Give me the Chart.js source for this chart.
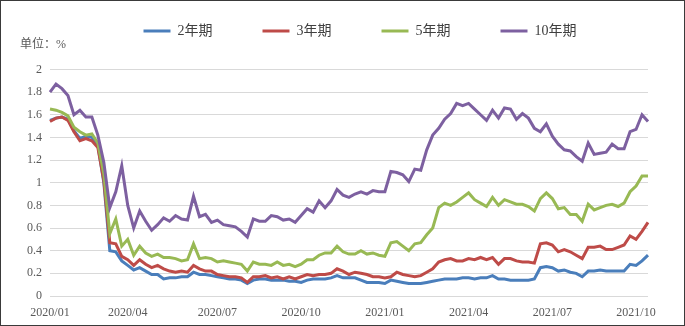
<!DOCTYPE html>
<html>
<head>
<meta charset="utf-8">
<script src="https://cdn.jsdelivr.net/npm/chart.js@4.4.0/dist/chart.umd.min.js"></script>
<style>
  html, body { margin: 0; padding: 0; background: #fff; }
  .frame { width: 685px; height: 326px; box-sizing: border-box; border: 1px solid #3a3a3a; }
</style>
</head>
<body>
<div class="frame">
  <canvas id="yieldChart" width="683" height="324"></canvas>
</div>
<script>
// yields, % (sampled at even steps from 2020/01 to mid 2021/10)
const y2 = [1.55, 1.57, 1.58, 1.56, 1.46, 1.39, 1.41, 1.40, 1.33, 1.00,
  0.40, 0.39, 0.31, 0.27, 0.23, 0.25, 0.22, 0.19, 0.19, 0.15,
  0.16, 0.16, 0.17, 0.17, 0.21, 0.19, 0.19, 0.18, 0.17, 0.16,
  0.15, 0.15, 0.14, 0.11, 0.14, 0.15, 0.15, 0.14, 0.14, 0.14,
  0.13, 0.13, 0.12, 0.14, 0.15, 0.15, 0.15, 0.16, 0.18, 0.16,
  0.16, 0.16, 0.14, 0.12, 0.12, 0.12, 0.11, 0.14, 0.13, 0.12,
  0.11, 0.11, 0.11, 0.12, 0.13, 0.14, 0.15, 0.15, 0.15, 0.16,
  0.16, 0.15, 0.16, 0.16, 0.18, 0.15, 0.15, 0.14, 0.14, 0.14,
  0.14, 0.15, 0.25, 0.26, 0.25, 0.22, 0.23, 0.21, 0.20, 0.17,
  0.22, 0.22, 0.23, 0.22, 0.22, 0.22, 0.22, 0.28, 0.27, 0.31, 0.36];
const y3 = [1.54, 1.57, 1.58, 1.55, 1.45, 1.37, 1.39, 1.37, 1.31, 1.02,
  0.47, 0.46, 0.35, 0.32, 0.27, 0.32, 0.28, 0.25, 0.27, 0.24,
  0.22, 0.21, 0.22, 0.21, 0.27, 0.24, 0.22, 0.22, 0.19, 0.18,
  0.17, 0.17, 0.16, 0.12, 0.17, 0.17, 0.18, 0.16, 0.17, 0.15,
  0.17, 0.15, 0.17, 0.19, 0.18, 0.19, 0.19, 0.20, 0.24, 0.22,
  0.19, 0.21, 0.20, 0.19, 0.17, 0.17, 0.16, 0.17, 0.21, 0.19,
  0.18, 0.17, 0.18, 0.21, 0.24, 0.30, 0.32, 0.33, 0.31, 0.31,
  0.33, 0.32, 0.34, 0.32, 0.34, 0.28, 0.33, 0.33, 0.31, 0.30,
  0.30, 0.29, 0.46, 0.47, 0.45, 0.39, 0.41, 0.39, 0.36, 0.33,
  0.43, 0.43, 0.44, 0.41, 0.41, 0.43, 0.45, 0.53, 0.50, 0.57, 0.65];
const y5 = [1.65, 1.64, 1.62, 1.59, 1.49, 1.45, 1.42, 1.43, 1.35, 1.08,
  0.55, 0.68, 0.44, 0.50, 0.36, 0.44, 0.38, 0.35, 0.37, 0.34,
  0.34, 0.33, 0.31, 0.32, 0.46, 0.33, 0.34, 0.33, 0.30, 0.31,
  0.30, 0.29, 0.28, 0.22, 0.30, 0.28, 0.28, 0.27, 0.30, 0.27,
  0.28, 0.26, 0.28, 0.32, 0.32, 0.36, 0.38, 0.38, 0.44, 0.39,
  0.37, 0.37, 0.40, 0.37, 0.38, 0.36, 0.35, 0.47, 0.48, 0.44,
  0.40, 0.46, 0.47, 0.54, 0.60, 0.78, 0.82, 0.80, 0.83, 0.87,
  0.91, 0.85, 0.82, 0.79, 0.87, 0.80, 0.85, 0.83, 0.81, 0.81,
  0.79, 0.75, 0.86, 0.91, 0.86, 0.77, 0.78, 0.72, 0.72, 0.66,
  0.81, 0.76, 0.78, 0.80, 0.81, 0.79, 0.82, 0.92, 0.97, 1.06, 1.06];
const y10 = [1.80, 1.87, 1.83, 1.77, 1.60, 1.64, 1.58, 1.58, 1.42, 1.18,
  0.78, 0.92, 1.15, 0.80, 0.60, 0.75, 0.66, 0.58, 0.63, 0.69,
  0.66, 0.71, 0.68, 0.67, 0.88, 0.70, 0.72, 0.65, 0.67, 0.63,
  0.62, 0.61, 0.57, 0.52, 0.68, 0.66, 0.66, 0.71, 0.70, 0.67,
  0.68, 0.65, 0.71, 0.77, 0.74, 0.84, 0.78, 0.84, 0.94, 0.89,
  0.87, 0.90, 0.92, 0.90, 0.93, 0.92, 0.92, 1.10, 1.09, 1.07,
  1.01, 1.12, 1.11, 1.29, 1.42, 1.48, 1.56, 1.61, 1.70, 1.68,
  1.70, 1.65, 1.60, 1.55, 1.64, 1.57, 1.66, 1.65, 1.56, 1.61,
  1.57, 1.48, 1.45, 1.52, 1.41, 1.34, 1.29, 1.28, 1.23, 1.19,
  1.35, 1.25, 1.26, 1.27, 1.34, 1.30, 1.30, 1.45, 1.47, 1.60, 1.54];

const seriesNames = ['2年期', '3年期', '5年期', '10年期'];
const seriesColors = ['#4a7ebb', '#be4b48', '#98b954', '#7d60a0'];

// quarter labels and the sample they sit under
const tickText = ['2020/01', '2020/04', '2020/07', '2020/10', '2021/01', '2021/04', '2021/07', '2021/10'];
const tickPos = [0, 13, 28, 42, 56, 70, 84, 98];

const serif = "'Liberation Serif', 'Times New Roman', 'Noto Sans CJK SC', serif";
const legendGap = 50;

// the legend uses its padding both ways; keep the wide gaps but pull the row up
const placeLegend = {
  id: 'placeLegend',
  afterLayout(chart) {
    const lg = chart.legend;
    lg.left += 52;
    lg.top = 30 - legendGap - 7;
  }
};

const series = [y2, y3, y5, y10];

new Chart(document.getElementById('yieldChart').getContext('2d'), {
  type: 'line',
  data: {
    labels: y2.map((_, i) => i),
    datasets: series.map((values, i) => ({
      label: seriesNames[i],
      data: values,
      borderColor: seriesColors[i],
      backgroundColor: seriesColors[i],
      borderWidth: 3,
      pointRadius: 0,
      tension: 0,
      order: 4 - i
    }))
  },
  options: {
    responsive: false,
    animation: false,
    events: [],
    layout: {padding: {left: 19, right: 36, top: 0, bottom: 0}},
    plugins: {
      tooltip: {enabled: false},
      legend: {
        position: 'top',
        maxHeight: 37,
        labels: {
          usePointStyle: true,
          pointStyle: 'line',
          pointStyleWidth: 27,
          padding: legendGap,
          color: '#404040',
          font: {family: serif, size: 14},
          sort: (a, b) => a.datasetIndex - b.datasetIndex
        }
      },
      title: {
        display: true,
        text: '单位：%',
        align: 'start',
        weight: 500,
        color: '#595959',
        font: {family: serif, size: 12, weight: 'normal', lineHeight: 1.2},
        padding: {top: 0, bottom: 17}
      }
    },
    scales: {
      x: {
        grid: {display: false},
        border: {display: false},
        ticks: {
          autoSkip: false,
          minRotation: 0,
          maxRotation: 0,
          padding: 2,
          color: '#595959',
          font: {family: serif, size: 12},
          callback: (value, index) => {
            const k = tickPos.indexOf(index);
            return k >= 0 ? tickText[k] : '';
          }
        },
        afterFit: scale => { scale.height = 29; }
      },
      y: {
        min: 0,
        max: 2,
        grid: {color: '#d9d9d9', lineWidth: 1, drawTicks: false},
        border: {display: false},
        ticks: {
          stepSize: 0.2,
          padding: 8,
          color: '#595959',
          font: {family: serif, size: 12},
          callback: v => String(Math.round(v * 10) / 10)
        },
        afterFit: scale => { scale.width = 30; }
      }
    }
  },
  plugins: [placeLegend]
});
</script>
</body>
</html>
